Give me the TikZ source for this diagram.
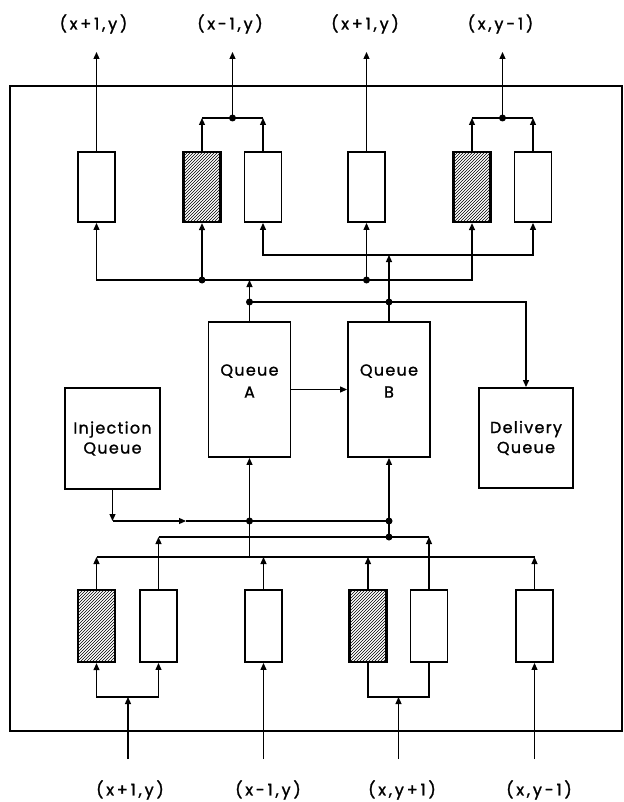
\documentclass[tikz,border=0pt]{standalone}
\usepackage{fontspec}
\setmainfont{Poppins}
\newfontfamily\portfont[LetterSpace=18,FakeBold=1.6]{Poppins}
\newfontfamily\queuefont[LetterSpace=8,FakeBold=1.2]{Poppins}
\usetikzlibrary{arrows.meta,patterns}
\tikzset{buffer/.style={rectangle,draw,line width=1.9pt,minimum width=37pt,minimum height=70pt,inner sep=0pt},
  hbuffer/.style={buffer,line width=2.3pt,pattern=north east lines},
  queue/.style={rectangle,draw,line width=1.9pt,inner sep=0pt,align=center,font=\queuefont\fontsize{16}{20}\selectfont},
  qlabel/.style={align=center,inner sep=0pt,font=\queuefont\fontsize{16}{22}\selectfont},
  port/.style={inner sep=0pt,font=\portfont\fontsize{16}{18}\selectfont},
  wire/.style={line width=1.2pt},
  arrow/.style={-{Triangle[length=7pt,width=6pt]},line width=1.2pt}}

\begin{document}
\begin{tikzpicture}[x=1pt,y=-1pt]
  \path[use as bounding box] (0,0) rectangle (623,802);
  \draw[line width=2.5pt] (10,86) rectangle (622,731);
  \node[port] (p1) at (93.5,24) {(x+1,y)};
  \node[port] (p2) at (230,24) {(x-1,y)};
  \node[port] (p3) at (365,24) {(x+1,y)};
  \node[port] (p4) at (500.5,24) {(x,y-1)};
  \coordinate (o1) at (96.5,52);
  \coordinate (o2) at (232.5,52);
  \coordinate (o3) at (366.5,52);
  \coordinate (o4) at (502.5,52);
  \coordinate (m2) at (232.5,118);
  \coordinate (m5) at (502.5,118);
  \node[buffer] (t1) at (96.5,187) {};
  \node[hbuffer] (t2) at (202,187) {};
  \node[buffer] (t3) at (263,187) {};
  \node[buffer] (t4) at (366.5,187) {};
  \node[hbuffer] (t5) at (472,187) {};
  \node[buffer] (t6) at (533,187) {};
  \draw[arrow] (t1) -- (o1);
  \draw[arrow] (t4) -- (o3);
  \draw[arrow] (t2.north) -- (t2.north |- m2);
  \draw[arrow] (t3.north) -- (t3.north |- m2);
  \draw[wire] (t2.north |- m2) -- (t3.north |- m2);
  \draw[arrow] (m2) -- (o2);
  \draw[arrow] (t5.north) -- (t5.north |- m5);
  \draw[arrow] (t6.north) -- (t6.north |- m5);
  \draw[wire] (t5.north |- m5) -- (t6.north |- m5);
  \draw[arrow] (m5) -- (o4);
  \coordinate (r1) at (0,280);
  \coordinate (r2) at (0,255);
  \coordinate (ja) at (249.5,302);
  \coordinate (jb) at (389,302);
  \draw[arrow] (t2.south |- r1) -- (t1.south |- r1) -- (t1.south);
  \draw[wire] (t2.south |- r1) -- (t4.south |- r1);
  \draw[arrow] (t4.south |- r1) -- (t5.south |- r1) -- (t5.south);
  \draw[arrow] (t2.south |- r1) -- (t2.south);
  \draw[arrow] (t4.south |- r1) -- (t4.south);
  \draw[arrow] (ja) -- (ja |- r1);
  \draw[arrow] (jb |- r2) -- (t3.south |- r2) -- (t3.south);
  \draw[arrow] (jb |- r2) -- (t6.south |- r2) -- (t6.south);
  \draw[arrow] (jb) -- (jb |- r2);
  \node[queue,minimum width=82pt,minimum height=135pt] (qa) at (249.5,389.5) {};
  \node[queue,minimum width=82pt,minimum height=135pt] (qb) at (389,389.5) {};
  \node[qlabel] (la) at (249.5,381) {Queue\\A};
  \node[qlabel] (lb) at (389,381) {Queue\\B};
  \node[queue,minimum width=95pt,minimum height=101pt] (inj) at (112.5,438.5) {Injection\\Queue};
  \node[queue,minimum width=94pt,minimum height=100pt] (dlv) at (526,438) {Delivery\\Queue};
  \draw[wire] (qa) -- (ja) -- (jb);
  \draw[wire] (qb) -- (jb);
  \draw[arrow] (jb) -| (dlv);
  \draw[arrow] (qa) -- (qb);
  \coordinate (r4) at (0,521);
  \coordinate (cm) at (186,521);
  \coordinate (ka) at (249.5,521);
  \coordinate (kb) at (389,521);
  \coordinate (kc) at (389,537);
  \coordinate (r6) at (0,557);
  \draw[arrow] (inj) -- (inj.south |- r4);
  \draw[arrow] (inj.south |- r4) -- (cm);
  \draw[wire] (cm) -- (ka) -- (kb);
  \draw[arrow] (ka) -- (qa);
  \draw[arrow] (kb) -- (qb);
  \draw[wire] (kc) -- (kb);
  \draw[wire] (ka) -- (ka |- r6);
  \node[hbuffer,minimum height=72pt] (b1) at (96.5,626) {};
  \node[buffer,minimum height=72pt] (b2) at (158.5,626) {};
  \node[buffer,minimum height=72pt] (b3) at (263.5,626) {};
  \node[hbuffer,minimum height=72pt] (b4) at (368,626) {};
  \node[buffer,minimum height=72pt] (b5) at (429,626) {};
  \node[buffer,minimum height=72pt] (b6) at (534.5,626) {};
  \draw[wire] (b2.north |- kc) -- (b5.north |- kc);
  \draw[arrow] (b2) -- (b2.north |- kc);
  \draw[arrow] (b5) -- (b5.north |- kc);
  \draw[wire] (b1.north |- r6) -- (b6.north |- r6);
  \foreach \b in {b1,b3,b4,b6}
    \draw[arrow] (\b) -- (\b.north |- r6);
  \coordinate (s1) at (128,697);
  \coordinate (s3) at (398.5,697);
  \coordinate (i1) at (128,759);
  \coordinate (i2) at (263.5,759);
  \coordinate (i3) at (398.5,759);
  \coordinate (i4) at (534.5,759);
  \draw[arrow] (i1) -- (s1);
  \draw[arrow] (s1) -| (b1);
  \draw[arrow] (s1) -| (b2);
  \draw[arrow] (i2) -- (b3);
  \draw[arrow] (i3) -- (s3);
  \draw[wire] (s3) -| (b4);
  \draw[wire] (s3) -| (b5);
  \draw[arrow] (i4) -- (b6);
  \foreach \p in {m2,m5,t2.south |- r1,t4.south |- r1,ja,jb,ka,kb,kc}
    \fill (\p) circle[radius=3.5pt];
  \node[port] (q1) at (130,790) {(x+1,y)};
  \node[port] (q2) at (268,790) {(x-1,y)};
  \node[port] (q3) at (402,790) {(x,y+1)};
  \node[port] (q4) at (539,790) {(x,y-1)};
\end{tikzpicture}
\end{document}
